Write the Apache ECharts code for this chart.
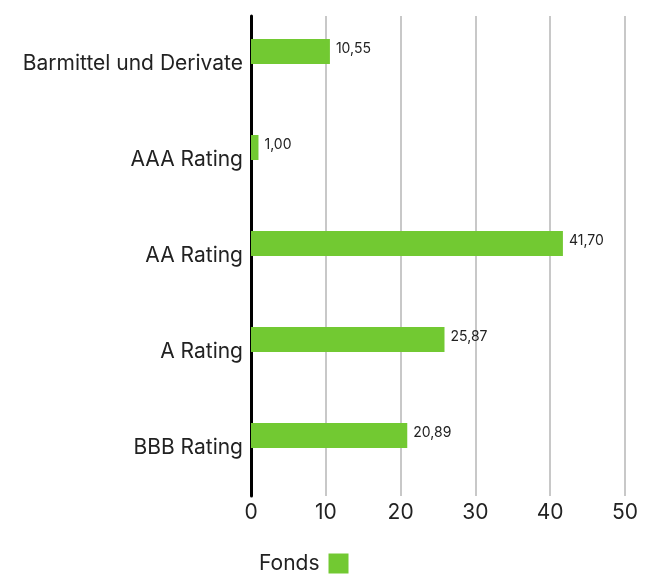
<!DOCTYPE html>
<html><head><meta charset="utf-8">
<script src="https://cdn.jsdelivr.net/npm/echarts@6/dist/echarts.min.js"></script>
<style>html,body{margin:0;padding:0;background:#fff}#c{width:651px;height:576px}</style>
</head><body><div id="c"></div>
<script>
const categories = ["Barmittel und Derivate", "AAA Rating", "AA Rating", "A Rating", "BBB Rating"];
const fondsValues = [10.55, 1.00, 41.70, 25.87, 20.89];
const xTicks = [0, 10, 20, 30, 40, 50];
const seriesName = "Fonds";

const chart = echarts.init(document.getElementById('c'));
const FONT = 'Inter';
chart.setOption({
  animation: false,
  textStyle: { fontFamily: FONT },
  grid: { left: 251, right: 26, top: 16, bottom: 80, containLabel: false },
  legend: {
    data: [seriesName], bottom: 2, left: 259, align: 'right', padding: 0,
    itemWidth: 20, itemHeight: 20, itemGap: 10, icon: 'rect',
    textStyle: { fontSize: 21, color: '#222', fontFamily: FONT, padding: [0, 4, 0, 0] }
  },
  xAxis: {
    type: 'value', min: xTicks[0], max: xTicks[xTicks.length - 1], interval: 10,
    axisLine: { show: false }, axisTick: { show: false },
    axisLabel: { fontSize: 21, color: '#222', margin: 6, fontFamily: FONT },
    splitLine: { show: true, lineStyle: { color: '#c8c8c8', width: 2 } }
  },
  yAxis: {
    type: 'category', data: categories, inverse: true,
    axisLine: { show: true, lineStyle: { color: '#000', width: 3 } },
    axisTick: { show: false },
    axisLabel: { fontSize: 21, color: '#222', margin: 8, fontFamily: FONT, padding: [4, 0, 0, 0] }
  },
  series: [
    {
      name: seriesName, type: 'bar', data: fondsValues, barWidth: 25, barGap: '0%',
      itemStyle: { color: '#72C932' },
      label: {
        show: true, position: 'right', distance: 6, offset: [0, -3],
        fontSize: 14, color: '#222', fontFamily: FONT,
        formatter: p => p.value.toFixed(2).replace('.', ',')
      }
    },
    { name: 'Benchmark', type: 'bar', data: categories.map(() => null), barWidth: 25 }
  ]
});
</script></body></html>
